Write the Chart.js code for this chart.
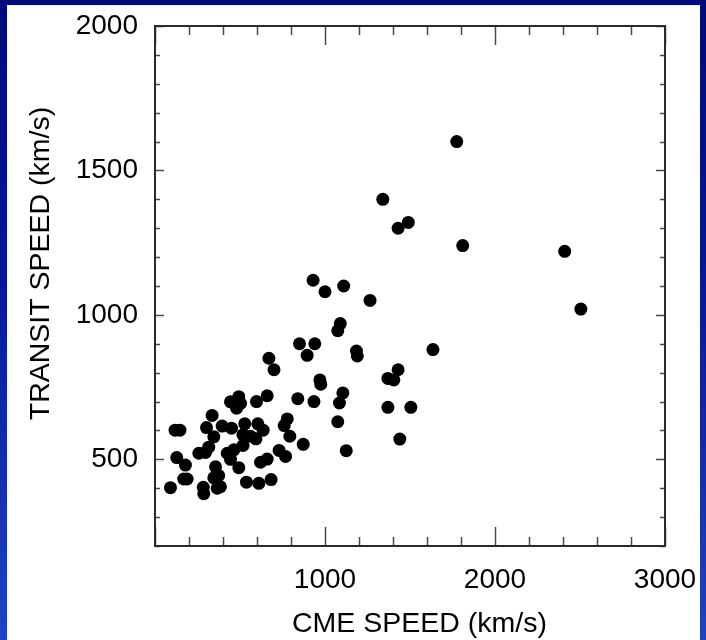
<!DOCTYPE html>
<html>
<head>
<meta charset="utf-8">
<title>CME speed vs transit speed</title>
<script src="https://cdn.jsdelivr.net/npm/chart.js@4/dist/chart.umd.min.js"></script>
<style>
  html, body { margin: 0; padding: 0; }
  body {
    width: 706px; height: 640px; overflow: hidden; position: relative;
    background: linear-gradient(to bottom, #000a78 0%, #06179a 45%, #1f43c2 100%);
  }
  #panel {
    position: absolute; left: 7px; top: 5px; width: 693px; height: 635px;
    background: #ffffff;
  }
  canvas { display: block; }
</style>
</head>
<body>
<div id="panel"><canvas id="chart" width="693" height="635"></canvas></div>
<script>
// CME speed (km/s) for each event
const cmeSpeed = [
  1775, 1340, 1490, 1430, 1810, 2410, 2505,
  930, 1000, 1110, 1265, 1090, 1075,
  850, 940, 895, 1185, 1190, 1635,
  1430, 1370, 1405, 970, 975,
  840, 935, 1105, 1085, 1370, 1505,
  1075, 1440, 778, 793, 760, 872, 1125,
  670, 700, 660, 597, 444, 493, 503, 480,
  336, 303, 395, 450, 346, 528, 605, 636,
  517, 562, 594, 518,
  118, 147, 258, 297, 316, 128, 179,
  169, 189, 91, 284, 287, 366, 385, 356,
  425, 464, 444, 493, 346, 375,
  621, 660, 683, 611, 538, 730, 768
];

// Transit speed (km/s) for the same events
const transitSpeed = [
  1600, 1400, 1320, 1300, 1240, 1220, 1020,
  1120, 1080, 1100, 1050, 970, 945,
  900, 900, 860, 875, 858, 880,
  810, 780, 775, 775, 760,
  710, 700, 730, 695, 680, 680,
  630, 570, 640, 580, 617, 552, 530,
  850, 810, 720, 700, 699, 717, 694, 677,
  652, 610, 615, 608, 578, 623, 623, 601,
  585, 580, 571, 548,
  601, 601, 521, 524, 542, 506, 480,
  432, 432, 402, 403, 381, 400, 405, 474,
  521, 533, 500, 471, 436, 444,
  490, 501, 430, 417, 421, 531, 510
];

// Axis ranges and tick marks
const xRange = [0, 3000];
const yRange = [200, 2000];
const xTickLabels = [1000, 2000, 3000];
const yTickLabels = [500, 1000, 1500, 2000];
const xMinorStep = 200, xMajorStep = 1000;
const yMinorStep = 100, yMajorStep = 500;

const xTitle = 'CME SPEED (km/s)';
const yTitle = 'TRANSIT SPEED (km/s)';

const FONT = '"Liberation Sans", Arial, Helvetica, sans-serif';

const points = cmeSpeed.map((v, i) => ({ x: v, y: transitSpeed[i] }));

// Closed frame with inward tick marks on all four sides, plus axis titles
const framePlugin = {
  id: 'frameTicks',
  afterDraw(chart) {
    const { ctx, chartArea: a, scales } = chart;
    const xs = scales.x, ys = scales.y;
    ctx.save();
    ctx.strokeStyle = '#4a4a4a';
    ctx.lineWidth = 1.5;
    ctx.beginPath();
    for (let v = xRange[0]; v <= xRange[1]; v += xMinorStep) {
      const px = Math.round(xs.getPixelForValue(v)) + 0.5;
      const len = (v % xMajorStep === 0) ? 19 : 9;
      ctx.moveTo(px, a.bottom); ctx.lineTo(px, a.bottom - len);
      ctx.moveTo(px, a.top); ctx.lineTo(px, a.top + len);
    }
    for (let v = yRange[0]; v <= yRange[1]; v += yMinorStep) {
      const py = Math.round(ys.getPixelForValue(v)) + 0.5;
      const len = (v % yMajorStep === 0) ? 9 : 5;
      ctx.moveTo(a.left, py); ctx.lineTo(a.left + len, py);
      ctx.moveTo(a.right, py); ctx.lineTo(a.right - len, py);
    }
    ctx.stroke();

    ctx.strokeStyle = '#2a2a2a';
    ctx.lineWidth = 2;
    ctx.strokeRect(a.left, a.top, a.right - a.left, a.bottom - a.top);

    ctx.fillStyle = '#000';
    ctx.font = '28.5px ' + FONT;
    ctx.textAlign = 'center';
    ctx.textBaseline = 'middle';
    ctx.fillText(xTitle, 412.5, 619.5);
    ctx.translate(34, 258.5);
    ctx.rotate(-Math.PI / 2);
    ctx.fillText(yTitle, 0, 0);
    ctx.restore();
  }
};

new Chart(document.getElementById('chart'), {
  type: 'scatter',
  data: {
    datasets: [{
      data: points,
      backgroundColor: '#000',
      borderWidth: 0,
      pointRadius: 6.5,
      pointHoverRadius: 6.5
    }]
  },
  options: {
    responsive: false,
    animation: false,
    devicePixelRatio: 1,
    layout: { padding: { left: 0, right: 35, top: 21, bottom: 0 } },
    plugins: { legend: { display: false }, tooltip: { enabled: false } },
    scales: {
      x: {
        type: 'linear',
        min: xRange[0], max: xRange[1],
        grid: { display: false, drawTicks: false },
        border: { display: false },
        afterBuildTicks: s => { s.ticks = xTickLabels.map(v => ({ value: v })); },
        afterFit: s => { s.height = 94; s.paddingLeft = 0; s.paddingRight = 0; },
        ticks: {
          color: '#000', padding: 17, maxRotation: 0,
          font: { family: FONT, size: 28, lineHeight: 1.2 },
          callback: v => String(v)
        }
      },
      y: {
        type: 'linear',
        min: yRange[0], max: yRange[1],
        grid: { display: false, drawTicks: false },
        border: { display: false },
        afterBuildTicks: s => { s.ticks = yTickLabels.map(v => ({ value: v })); },
        afterFit: s => { s.width = 148; s.paddingTop = 0; s.paddingBottom = 0; },
        ticks: {
          color: '#000', padding: 17,
          font: { family: FONT, size: 28, lineHeight: 1.2 },
          callback: v => String(v)
        }
      }
    }
  },
  plugins: [framePlugin]
});
</script>
</body>
</html>
